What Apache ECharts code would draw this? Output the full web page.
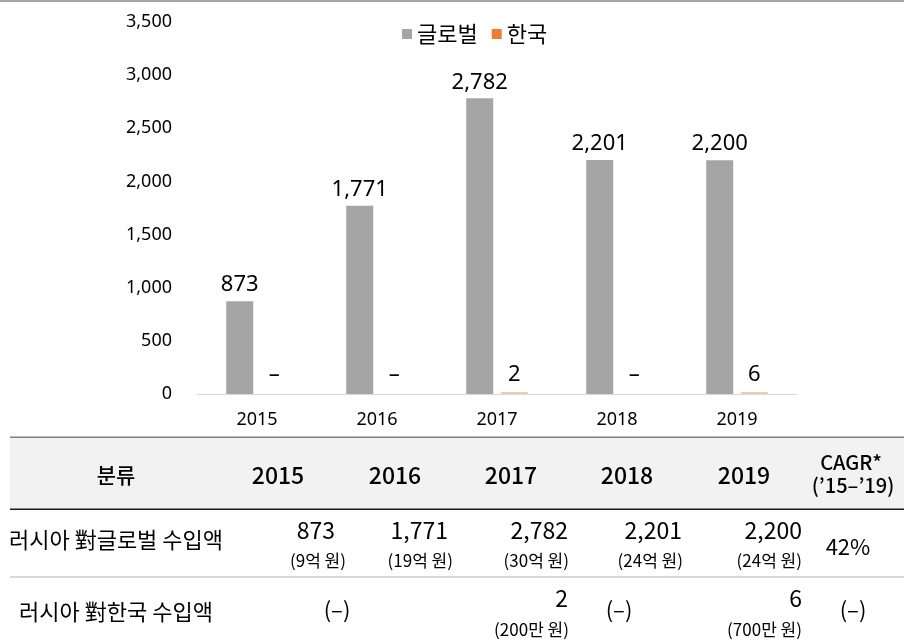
<!DOCTYPE html>
<html>
<head>
<meta charset="utf-8">
<script src="https://cdn.jsdelivr.net/npm/echarts@6/dist/echarts.min.js"></script>
<style>
  html, body { margin: 0; padding: 0; background: #fff; }
  #main { width: 904px; height: 643px; }
</style>
</head>
<body>
<div id="main"></div>
<script>
// 러시아 수입액 (백만 달러 추정)
var years = ['2015', '2016', '2017', '2018', '2019'];
var globalValues = [873, 1771, 2782, 2201, 2200];
var koreaValues = [null, null, 2, null, 6];
var seriesNames = ['글로벌', '한국'];

// 표 텍스트
var tableHeader = ['분류', '2015', '2016', '2017', '2018', '2019'];
var rowLabels = ['러시아 對글로벌 수입액', '러시아 對한국 수입액'];
var globalCells = ['873', '1,771', '2,782', '2,201', '2,200'];
var globalKrw = ['(9억 원)', '(19억 원)', '(30억 원)', '(24억 원)', '(24억 원)'];
var koreaCells = ['(–)', '', '2', '(–)', '6'];
var koreaKrw = ['', '', '(200만 원)', '', '(700만 원)'];
var cagrCells = ['42%', '(–)'];

var KR = "'Noto Sans CJK KR', sans-serif";
var NUM = "'Noto Sans', 'Noto Sans CJK KR', sans-serif";

function txt(x, y, text, size, align, weight) {
  return {
    type: 'text', x: x, y: y, silent: true,
    style: {
      text: text, fontSize: size, fontFamily: KR, fontWeight: weight || 'normal',
      fill: '#000', align: align, verticalAlign: 'middle',
      textAlign: align, textVerticalAlign: 'middle'
    }
  };
}
function rect(x, y, w, h, color) {
  return { type: 'rect', silent: true, shape: { x: x, y: y, width: w, height: h }, style: { fill: color } };
}

// 표 레이아웃
var headCenters = [116, 278, 395, 511, 627, 744];
var numRight = [335, 448, 568, 682, 802];
var subRight = [346, 453, 569, 683, 802];
var dashCenter = [337, 395, 511, 619, 744];

var graphics = [
  rect(0, 0, 904, 2, '#A6A6A6'),
  rect(10, 438, 894, 71, '#F2F2F2'),
  rect(10, 436.5, 894, 1.5, '#7F7F7F'),
  rect(10, 508.5, 894, 1.5, '#1A1A1A'),
  rect(10, 576, 894, 2, '#D9D9D9')
];
tableHeader.forEach(function (h, i) {
  graphics.push(txt(headCenters[i], 475, h, i === 0 ? 21 : 23, 'center', 500));
});
graphics.push(txt(851, 462, 'CAGR*', 20, 'center', 500));
graphics.push(txt(853, 485, '(’15–’19)', 20, 'center', 500));

graphics.push(txt(116, 540, rowLabels[0], 22, 'center'));
graphics.push(txt(116, 612, rowLabels[1], 22, 'center'));
globalCells.forEach(function (v, i) {
  graphics.push(txt(numRight[i], 530, v, 23, 'right'));
  graphics.push(txt(subRight[i], 561, globalKrw[i], 17, 'right'));
});
koreaCells.forEach(function (v, i) {
  if (!v) return;
  if (v === '(–)') {
    graphics.push(txt(dashCenter[i], 610, v, 22, 'center'));
  } else {
    graphics.push(txt(numRight[i], 598, v, 23, 'right'));
    graphics.push(txt(subRight[i], 630, koreaKrw[i], 17, 'right'));
  }
});
graphics.push(txt(848, 547, cagrCells[0], 22, 'center'));
graphics.push(txt(853, 610, cagrCells[1], 22, 'center'));

var koreaData = koreaValues.map(function (v) {
  if (v == null) {
    return { value: 0, itemStyle: { color: 'rgba(0,0,0,0)' }, label: { formatter: '–' } };
  }
  return { value: v, itemStyle: { color: '#F5CBAA' } };
});

var chart = echarts.init(document.getElementById('main'));
chart.setOption({
  animation: false,
  textStyle: { fontFamily: NUM },
  legend: {
    data: seriesNames,
    left: 397,
    top: 18,
    icon: 'rect',
    itemWidth: 10,
    itemHeight: 10,
    itemGap: 14,
    textStyle: { fontSize: 22, color: '#000', fontFamily: KR }
  },
  grid: { left: 197, right: 107, top: 22, bottom: 249, containLabel: false },
  xAxis: {
    type: 'category',
    data: years,
    axisLine: { lineStyle: { color: '#D9D9D9', width: 1 } },
    axisTick: { show: false },
    axisLabel: { fontSize: 18, color: '#000', margin: 17 }
  },
  yAxis: {
    type: 'value',
    min: 0,
    max: 3500,
    interval: 500,
    axisLine: { show: false },
    axisTick: { show: false },
    splitLine: { show: false },
    axisLabel: {
      fontSize: 18, color: '#000', margin: 25,
      formatter: function (v) { return v.toLocaleString('en-US'); }
    }
  },
  series: [
    {
      name: seriesNames[0],
      type: 'bar',
      data: globalValues,
      barWidth: 27,
      barGap: '28%',
      itemStyle: { color: '#A5A5A5' },
      label: {
        show: true, position: 'top', distance: 5, fontSize: 22, color: '#000',
        formatter: function (p) { return p.value.toLocaleString('en-US'); }
      }
    },
    {
      name: seriesNames[1],
      type: 'bar',
      data: koreaData,
      barWidth: 27,
      barMinHeight: 2,
      itemStyle: { color: '#ED7D31' },
      label: { show: true, position: 'top', distance: 6, fontSize: 22, color: '#000' }
    }
  ],
  graphic: graphics
});
</script>
</body>
</html>
